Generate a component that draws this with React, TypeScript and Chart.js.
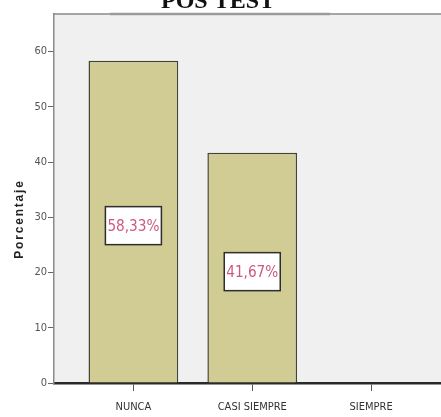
import React, { useEffect, useRef } from "react";
import { Chart, registerables } from "chart.js";

Chart.register(...registerables);

const categories = ["NUNCA", "CASI SIEMPRE", "SIEMPRE"];
const percentages = [58.33, 41.67, 0];
const yTicks = [0, 10, 20, 30, 40, 50, 60];

const chartTitle = "POS TEST";
const yTitle = "Porcentaje";

const narrow = "'Liberation Sans Narrow', 'DejaVu Sans Condensed', 'Arial Narrow', sans-serif";

const fmt = (v: number) => v.toFixed(2).replace(".", ",") + "%";

const framePlugin = {
  id: "frame",
  beforeDraw(chart: any) {
    const { ctx, chartArea } = chart;
    ctx.save();
    ctx.fillStyle = "#f0f0f0";
    ctx.fillRect(chartArea.left, chartArea.top, chartArea.right - chartArea.left, chartArea.bottom - chartArea.top);
    ctx.strokeStyle = "#8a8a8a";
    ctx.lineWidth = 1.5;
    ctx.beginPath();
    ctx.moveTo(chartArea.left, chartArea.top);
    ctx.lineTo(chartArea.right, chartArea.top);
    ctx.stroke();
    // heavier strip under the title
    ctx.strokeStyle = "#9a9a9a";
    ctx.lineWidth = 2.5;
    ctx.beginPath();
    ctx.moveTo(110, chartArea.top);
    ctx.lineTo(330, chartArea.top);
    ctx.stroke();
    ctx.restore();
  },
  afterDraw(chart: any) {
    const { ctx } = chart;
    ctx.save();
    // chart title, partly above the canvas edge
    ctx.fillStyle = "#111";
    ctx.font = "bold 24px 'Liberation Serif', 'Times New Roman', serif";
    ctx.textAlign = "center";
    ctx.textBaseline = "alphabetic";
    ctx.fillText(chartTitle, 218, 8);
    // y axis title with letter spacing
    ctx.translate(20, 219);
    ctx.rotate(-Math.PI / 2);
    ctx.font = "bold 12px 'Liberation Sans', Arial, sans-serif";
    (ctx as any).letterSpacing = "1.8px";
    ctx.textAlign = "center";
    ctx.textBaseline = "middle";
    ctx.fillStyle = "#222";
    ctx.fillText(yTitle, 0, 0);
    ctx.restore();
  },
};

const labelPlugin = {
  id: "valueBoxes",
  afterDatasetsDraw(chart: any) {
    const { ctx } = chart;
    const meta = chart.getDatasetMeta(0);
    ctx.save();
    meta.data.forEach((bar: any, i: number) => {
      const v = percentages[i];
      if (!v) return;
      const cx = bar.x;
      const cy = (bar.y + bar.base) / 2 + 4;
      const w = 56;
      const h = 38;
      ctx.fillStyle = "#ffffff";
      ctx.fillRect(cx - w / 2, cy - h / 2, w, h);
      ctx.strokeStyle = "#2e2e2e";
      ctx.lineWidth = 1.5;
      ctx.strokeRect(cx - w / 2, cy - h / 2, w, h);
      ctx.fillStyle = "#cc5a80";
      ctx.font = "condensed 16px " + narrow;
      ctx.textAlign = "center";
      ctx.textBaseline = "middle";
      ctx.fillText(fmt(v), cx, cy + 1, w - 4);
    });
    ctx.restore();
  },
};

export default function App() {
  const ref = useRef<HTMLCanvasElement | null>(null);

  useEffect(() => {
    if (!ref.current) return;
    const chart = new Chart(ref.current, {
      type: "bar",
      data: {
        datasets: [
          {
            data: percentages.map((v, i) => ({ x: i, y: v })),
            backgroundColor: "rgb(209,203,148)",
            borderColor: "rgb(68,68,52)",
            borderWidth: 1.5,
            barPercentage: 0.755,
            categoryPercentage: 1,
          },
        ],
      },
      options: {
        animation: false,
        responsive: false,
        maintainAspectRatio: false,
        layout: { padding: { top: 14, right: 0, left: 0, bottom: 0 } },
        plugins: {
          legend: { display: false },
          tooltip: { enabled: false },
          title: { display: false },
        },
        scales: {
          x: {
            type: "linear",
            offset: false,
            min: -0.668,
            max: 2.588,
            afterBuildTicks: (scale: any) => {
              scale.ticks = categories.map((_, i) => ({ value: i }));
            },
            afterFit: (scale: any) => {
              scale.height = 34;
            },
            grid: { offset: false, drawOnChartArea: false, drawTicks: true, tickLength: 8, color: "#555" },
            border: { display: true, color: "#2a2a2a", width: 2.5 },
            ticks: {
              autoSkip: false,
              maxRotation: 0,
              padding: 10,
              color: "#333",
              font: { family: narrow, size: 11, style: "condensed" as any },
              callback: (v: any) => categories[Number(v)] ?? "",
            },
          },
          y: {
            min: 0,
            max: 66.8,
            afterBuildTicks: (scale: any) => {
              scale.ticks = yTicks.map((v) => ({ value: v }));
            },
            afterFit: (scale: any) => {
              scale.width = 54;
            },
            grid: { drawOnChartArea: false, drawTicks: true, tickLength: 6, color: "#666" },
            border: { display: true, color: "#8a8a8a", width: 1.5 },
            ticks: {
              padding: 1,
              color: "#555",
              font: { family: narrow, size: 11, style: "condensed" as any },
            },
          },
        },
      },
      plugins: [framePlugin, labelPlugin],
    });
    return () => chart.destroy();
  }, []);

  return (
    <div
      style={{
        position: "fixed",
        left: 0,
        top: 0,
        width: 441,
        height: 417,
        overflow: "hidden",
        background: "#fff",
      }}
    >
      <canvas ref={ref} width={441} height={417} style={{ display: "block" }} />
    </div>
  );
}
